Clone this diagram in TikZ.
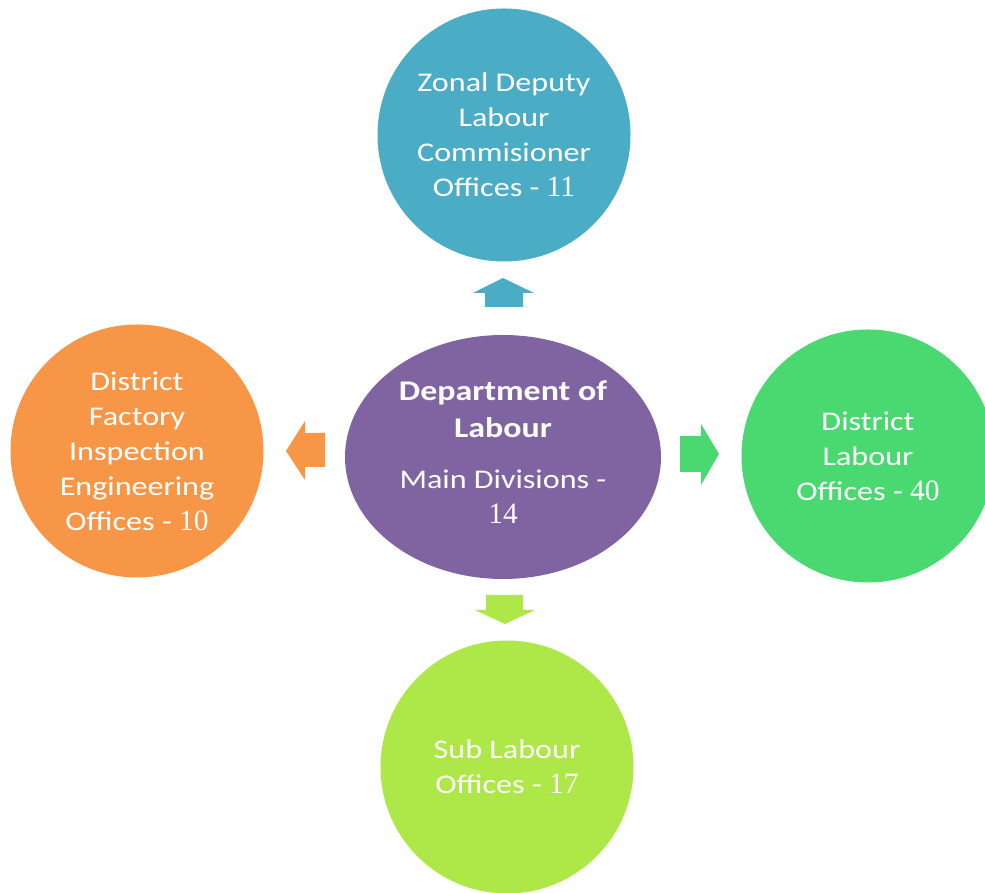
\documentclass[tikz,border=0pt]{standalone}
\usepackage{fontspec}
\setmainfont{Carlito}[FakeStretch=1.19]
\newfontfamily\tnrfam{Liberation Serif}
\newcommand{\num}[1]{{\fontsize{29.5}{35}\selectfont\tnrfam #1}}
\usetikzlibrary{shapes.geometric}
\definecolor{cteal}{RGB}{75,172,198}
\definecolor{corange}{RGB}{247,150,70}
\definecolor{cgreen}{RGB}{74,216,112}
\definecolor{clime}{RGB}{173,232,72}
\definecolor{cpurple}{RGB}{128,100,162}
\tikzset{
  bubble/.style={circle, minimum size=253pt, inner sep=0pt, text=white, align=center,
    font=\fontsize{27}{35}\selectfont},
  hub/.style={ellipse, minimum width=316pt, minimum height=244pt, inner sep=0pt, text=white, align=center,
    font=\fontsize{27}{35}\selectfont}
}
\begin{document}
\begin{tikzpicture}[x=1pt,y=1pt]
\useasboundingbox (0,0) rectangle (985,893);
% nodes
\node[hub, fill=cpurple] (hub) at (503,436) {};
\node[text=white, align=center, font=\fontsize{28.5}{37}\selectfont\bfseries] (hubtitle) at (503,484) {Department of\\Labour};
\node[text=white, align=center, font=\fontsize{27}{35}\selectfont] (hubsub) at (503,396) {Main Divisions -\\\num{14}};
\node[bubble, fill=cteal] (top) at (504,758) {Zonal Deputy\\Labour\\Commisioner\\Offices - \num{11}};
\node[bubble, fill=corange] (left) at (137,442) {District\\Factory\\Inspection\\Engineering\\Offices - \num{10}};
\node[bubble, fill=cgreen] (right) at (868,437) {District\\Labour\\Offices - \num{40}};
\node[bubble, fill=clime] (bottom) at (507,126) {Sub Labour\\Offices - \num{17}};
% block arrows
\fill[cteal] (485,586) -- (485,600) -- (473,600) -- (503,615) -- (534,600) -- (523,600) -- (523,586) -- cycle;
\fill[corange] (325,460) -- (305,460) -- (305,472) -- (286,442) -- (305,413) -- (305,426) -- (325,426) -- cycle;
\fill[cgreen] (680,457) -- (701,457) -- (701,469) -- (719,439) -- (701,408) -- (701,421) -- (680,421) -- cycle;
\fill[clime] (486,298) -- (523,298) -- (523,283) -- (535,283) -- (505,269) -- (475,283) -- (486,283) -- cycle;
\end{tikzpicture}
\end{document}
